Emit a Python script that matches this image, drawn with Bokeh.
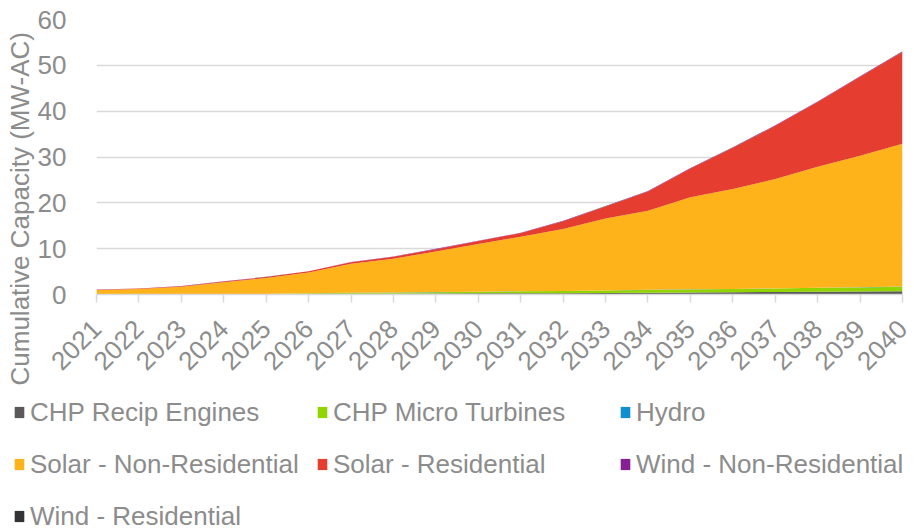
from math import pi
from bokeh.plotting import figure
from bokeh.layouts import column, row
from bokeh.models import (ColumnDataSource, Range1d, FixedTicker, Legend,
                          LegendItem, Title, Spacer)
from bokeh.embed import file_html
from bokeh.resources import INLINE

# ---- data (MW-AC, per technology, stacked) ----
years = [2021, 2022, 2023, 2024, 2025, 2026, 2027, 2028, 2029, 2030,
         2031, 2032, 2033, 2034, 2035, 2036, 2037, 2038, 2039, 2040]
chp_recip = [0.0, 0.0, 0.0, 0.0, 0.0, 0.1, 0.15, 0.15, 0.2, 0.25,
             0.3, 0.3, 0.35, 0.4, 0.45, 0.5, 0.55, 0.6, 0.65, 0.7]
chp_micro = [0.0, 0.0, 0.0, 0.05, 0.1, 0.15, 0.2, 0.25, 0.3, 0.35,
             0.4, 0.45, 0.5, 0.6, 0.65, 0.7, 0.75, 0.85, 0.9, 1.0]
hydro = [0.02, 0.02, 0.02, 0.02, 0.02, 0.02, 0.02, 0.02, 0.02, 0.02,
         0.02, 0.02, 0.02, 0.02, 0.02, 0.02, 0.02, 0.02, 0.02, 0.02]
solar_nonres = [0.98, 1.18, 1.68, 2.63, 3.48, 4.53, 6.33, 7.38, 8.88, 10.38,
                11.88, 13.53, 15.73, 17.28, 20.08, 21.78, 23.88, 26.43, 28.73, 31.18]
solar_res = [0.05, 0.1, 0.1, 0.15, 0.2, 0.25, 0.35, 0.45, 0.5, 0.65,
             0.8, 1.7, 2.6, 4.2, 6.3, 9.0, 11.6, 14.1, 17.2, 20.0]
wind_nonres = [0.02, 0.02, 0.03, 0.03, 0.04, 0.04, 0.05, 0.05, 0.06, 0.06,
               0.07, 0.07, 0.08, 0.09, 0.1, 0.1, 0.11, 0.12, 0.13, 0.14]
wind_res = [0.01, 0.01, 0.01, 0.01, 0.01, 0.01, 0.01, 0.01, 0.01, 0.01,
            0.01, 0.01, 0.01, 0.01, 0.01, 0.01, 0.01, 0.01, 0.01, 0.01]

series_names = ["CHP Recip Engines", "CHP Micro Turbines", "Hydro",
                "Solar - Non-Residential", "Solar - Residential",
                "Wind - Non-Residential", "Wind - Residential"]
series_keys = ["chp_recip", "chp_micro", "hydro", "solar_nonres",
               "solar_res", "wind_nonres", "wind_res"]
series_colors = ["#595959", "#92d400", "#0f8fd0", "#fdb319",
                 "#e53d30", "#861f94", "#333333"]
y_ticks = [0, 10, 20, 30, 40, 50, 60]
y_title = "Cumulative Capacity (MW-AC)"

src = ColumnDataSource(dict(year=years, chp_recip=chp_recip, chp_micro=chp_micro,
                            hydro=hydro, solar_nonres=solar_nonres,
                            solar_res=solar_res, wind_nonres=wind_nonres,
                            wind_res=wind_res))

FONT = "Liberation Sans"
TXT = "#8c8c8c"
GRID = "#d9d9d9"

# ---------------- main chart ----------------
p = figure(width=914, height=386, output_backend="svg", toolbar_location=None,
           x_range=Range1d(years[0], years[-1]), y_range=Range1d(0, 60),
           min_border_left=96, min_border_right=12, min_border_top=19,
           min_border_bottom=92)
p.outline_line_color = None

renderers = p.varea_stack(stackers=series_keys, x="year", color=series_colors,
                          source=src)

p.xaxis.ticker = FixedTicker(ticks=years)
p.xaxis.major_label_overrides = {y: str(y) for y in years}
p.xaxis.major_label_orientation = pi / 4
p.xaxis.major_label_text_font = FONT
p.xaxis.major_label_text_font_size = "26px"
p.xaxis.major_label_text_color = TXT
p.xaxis.major_label_standoff = 22
p.xaxis.axis_line_color = GRID
p.xaxis.axis_line_width = 1.5
p.xaxis.major_tick_line_color = GRID
p.xaxis.major_tick_line_width = 1.5
p.xaxis.major_tick_out = 8
p.xaxis.major_tick_in = 0
p.xaxis.minor_tick_line_color = None

p.yaxis.ticker = FixedTicker(ticks=y_ticks)
p.yaxis.major_label_text_font = FONT
p.yaxis.major_label_text_font_size = "26px"
p.yaxis.major_label_text_color = TXT
p.yaxis.major_label_standoff = 24
p.yaxis.axis_line_color = None
p.yaxis.major_tick_line_color = None
p.yaxis.minor_tick_line_color = None

p.xgrid.grid_line_color = None
p.ygrid.grid_line_color = GRID
p.ygrid.grid_line_width = 1.5
p.ygrid.ticker = FixedTicker(ticks=y_ticks)

p.add_layout(Title(text=y_title, text_font=FONT, text_font_size="26px",
                   text_font_style="normal", text_color=TXT, align="left",
                   offset=-91, standoff=0), "left")

# ---------------- legend strip ----------------
# same stacked series drawn on a range where they are out of view, used
# only so that the legend has real glyph renderers to draw its swatches
lg = figure(width=901, height=145, output_backend="svg", toolbar_location=None,
            x_range=Range1d(0, 1), y_range=Range1d(0, 1),
            x_axis_type=None, y_axis_type=None, min_border=0)
lg.outline_line_color = None
lg.xgrid.visible = False
lg.ygrid.visible = False
lg_renderers = lg.varea_stack(stackers=series_keys, x="year",
                              color=series_colors, source=src)
items = [LegendItem(label=n, renderers=[r])
         for n, r in zip(series_names, lg_renderers)]
legend = Legend(items=items, orientation="horizontal", ncols=3,
                location="top_left", padding=0, margin=0, spacing=0,
                glyph_width=12, glyph_height=14, label_standoff=5,
                label_width=286, label_height=52,
                label_text_font=FONT, label_text_font_size="26px",
                label_text_color=TXT, border_line_color=None,
                background_fill_alpha=0)
lg.add_layout(legend, "center")

layout = column(p, row(Spacer(width=13, height=145), lg))

open("out.html", "w").write(file_html(layout, INLINE))
